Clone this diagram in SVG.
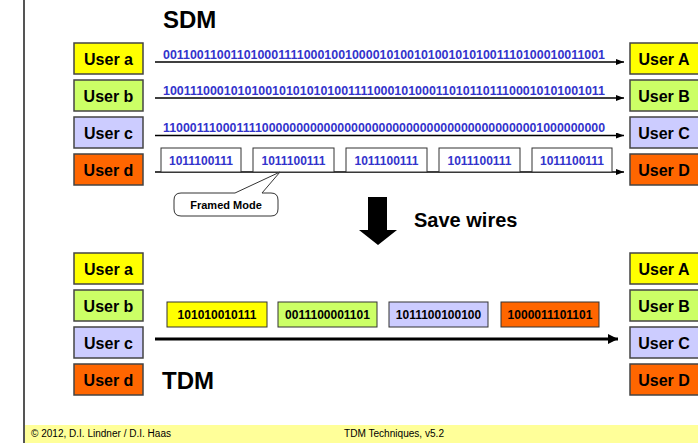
<svg xmlns="http://www.w3.org/2000/svg" width="698" height="443" viewBox="0 0 698 443">
<style>
.box{stroke:#444;stroke-width:1.5}
.ul{font-family:"Liberation Sans",Arial,sans-serif;font-weight:bold;font-size:16px;fill:#000;text-anchor:middle}
.bits{font-family:"Liberation Sans",Arial,sans-serif;font-weight:bold;font-size:12px;fill:#3333CC}
.fb{font-family:"Liberation Sans",Arial,sans-serif;font-weight:bold;font-size:12px;fill:#3333CC;text-anchor:middle}
.pk{font-family:"Liberation Sans",Arial,sans-serif;font-weight:bold;font-size:12px;fill:#000;text-anchor:middle}
.title{font-family:"Liberation Sans",Arial,sans-serif;font-weight:bold;font-size:24px;fill:#000}
.wire{stroke:#000;stroke-width:1.5;fill:none}
.foot{font-family:"Liberation Sans",Arial,sans-serif;font-size:10px;fill:#000}
.ya{fill:#FFFF00}.yb{fill:#CCFF66}.yc{fill:#CCCCFF}.yd{fill:#FF6600}
</style>
<defs>
<marker id="ah" markerWidth="8" markerHeight="6" refX="8" refY="3" orient="auto" markerUnits="userSpaceOnUse">
<path d="M0,0 L8,3 L0,6 Z" fill="#000"/>
</marker>
<marker id="ah2" markerWidth="10" markerHeight="10" refX="10" refY="5" orient="auto" markerUnits="userSpaceOnUse">
<path d="M0,0 L10,5 L0,10 Z" fill="#000"/>
</marker>
</defs>
<rect x="0" y="0" width="698" height="443" fill="#fff"/>
<rect x="24" y="425" width="674" height="18" fill="#FFFF99"/>
<line x1="24" y1="0" x2="24" y2="443" stroke="#555" stroke-width="2"/>
<text class="foot" x="31" y="437" textLength="140" lengthAdjust="spacingAndGlyphs">© 2012, D.I. Lindner / D.I. Haas</text>
<text class="foot" x="344" y="437" textLength="100" lengthAdjust="spacingAndGlyphs">TDM Techniques, v5.2</text>

<text class="title" x="163" y="28">SDM</text>
<text class="title" x="162" y="389">TDM</text>

<g id="sdm-src-a"><rect class="box ya" x="74" y="43" width="69" height="31"/><text class="ul" x="108.5" y="65">User a</text></g>
<g id="sdm-src-b"><rect class="box yb" x="74" y="80" width="69" height="31"/><text class="ul" x="108.5" y="102">User b</text></g>
<g id="sdm-src-c"><rect class="box yc" x="74" y="117" width="69" height="31"/><text class="ul" x="108.5" y="139">User c</text></g>
<g id="sdm-src-d"><rect class="box yd" x="74" y="154" width="69" height="31"/><text class="ul" x="108.5" y="176">User d</text></g>
<g id="sdm-dst-a"><rect class="box ya" x="630" y="43" width="69" height="31"/><text class="ul" x="664" y="65">User A</text></g>
<g id="sdm-dst-b"><rect class="box yb" x="630" y="80" width="69" height="31"/><text class="ul" x="664" y="102">User B</text></g>
<g id="sdm-dst-c"><rect class="box yc" x="630" y="117" width="69" height="31"/><text class="ul" x="664" y="139">User C</text></g>
<g id="sdm-dst-d"><rect class="box yd" x="630" y="154" width="69" height="31"/><text class="ul" x="664" y="176">User D</text></g>

<g id="tdm-src-a"><rect class="box ya" x="74" y="253" width="69" height="31"/><text class="ul" x="108.5" y="275">User a</text></g>
<g id="tdm-src-b"><rect class="box yb" x="74" y="290" width="69" height="31"/><text class="ul" x="108.5" y="312">User b</text></g>
<g id="tdm-src-c"><rect class="box yc" x="74" y="327" width="69" height="31"/><text class="ul" x="108.5" y="349">User c</text></g>
<g id="tdm-src-d"><rect class="box yd" x="74" y="364" width="69" height="31"/><text class="ul" x="108.5" y="386">User d</text></g>
<g id="tdm-dst-a"><rect class="box ya" x="630" y="253" width="69" height="31"/><text class="ul" x="664" y="275">User A</text></g>
<g id="tdm-dst-b"><rect class="box yb" x="630" y="290" width="69" height="31"/><text class="ul" x="664" y="312">User B</text></g>
<g id="tdm-dst-c"><rect class="box yc" x="630" y="327" width="69" height="31"/><text class="ul" x="664" y="349">User C</text></g>
<g id="tdm-dst-d"><rect class="box yd" x="630" y="364" width="69" height="31"/><text class="ul" x="664" y="386">User D</text></g>

<g id="connectors">
<line class="wire" x1="155" y1="62" x2="624" y2="62" marker-end="url(#ah)"/>
<line class="wire" x1="155" y1="98" x2="624" y2="98" marker-end="url(#ah)"/>
<line class="wire" x1="155" y1="135.5" x2="624" y2="135.5" marker-end="url(#ah)"/>
<line class="wire" x1="155" y1="172" x2="624" y2="172" marker-end="url(#ah)"/>
<line x1="155" y1="339" x2="618" y2="339" stroke="#000" stroke-width="3" marker-end="url(#ah2)"/>
</g>

<text class="bits" x="163" y="58.5" textLength="442" lengthAdjust="spacingAndGlyphs">00110011001101000111100010010000101001010010101001110100010011001</text>
<text class="bits" x="163" y="94.5" textLength="442" lengthAdjust="spacingAndGlyphs">10011100010101001010101010011110001010001101011011100010101001011</text>
<text class="bits" x="163" y="131.5" textLength="442" lengthAdjust="spacingAndGlyphs">11000111000111100000000000000000000000000000000000000001000000000</text>

<g id="frames">
<rect x="161" y="148" width="80" height="24" fill="#fff" stroke="#333" stroke-width="1"/><text class="fb" x="201" y="165">1011100111</text>
<rect x="253" y="148" width="81" height="24" fill="#fff" stroke="#333" stroke-width="1"/><text class="fb" x="293.5" y="165">1011100111</text>
<rect x="346" y="148" width="81" height="24" fill="#fff" stroke="#333" stroke-width="1"/><text class="fb" x="386.5" y="165">1011100111</text>
<rect x="439" y="148" width="81" height="24" fill="#fff" stroke="#333" stroke-width="1"/><text class="fb" x="479.5" y="165">1011100111</text>
<rect x="532" y="148" width="80" height="24" fill="#fff" stroke="#333" stroke-width="1"/><text class="fb" x="572" y="165">1011100111</text>
</g>

<g id="callout">
<path d="M181,193 L235,193 L280,172 L262,193 L271,193 Q278,193 278,200 L278,209 Q278,216 271,216 L181,216 Q174,216 174,209 L174,200 Q174,193 181,193 Z" fill="#fff" stroke="#333" stroke-width="1"/>
<text x="226" y="209" font-family="Liberation Sans,Arial,sans-serif" font-weight="bold" font-size="11" fill="#000" text-anchor="middle">Framed Mode</text>
</g>

<g id="save-wires">
<path d="M368,197 L387,197 L387,230 L397,230 L378,245 L359,230 L368,230 Z" fill="#000"/>
<text x="414" y="227" font-family="Liberation Sans,Arial,sans-serif" font-weight="bold" font-size="20" fill="#000">Save wires</text>
</g>

<g id="packets">
<rect class="ya" x="167" y="302" width="100" height="25" stroke="#333" stroke-width="1"/><text class="pk" x="217" y="319">101010010111</text>
<rect class="yb" x="278" y="302" width="99" height="25" stroke="#333" stroke-width="1"/><text class="pk" x="327.5" y="319">0011100001101</text>
<rect class="yc" x="389" y="302" width="99" height="25" stroke="#333" stroke-width="1"/><text class="pk" x="438.5" y="319">1011100100100</text>
<rect class="yd" x="501" y="302" width="98" height="25" stroke="#333" stroke-width="1"/><text class="pk" x="550" y="319">1000011101101</text>
</g>
</svg>
